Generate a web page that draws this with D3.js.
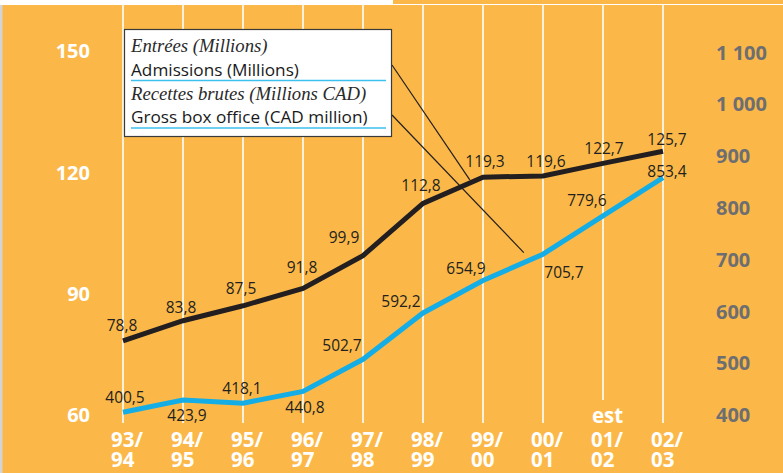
<!DOCTYPE html>
<html><head><meta charset="utf-8">
<script src="https://cdn.jsdelivr.net/npm/d3@7/dist/d3.min.js"></script>
<style>
html,body{margin:0;padding:0;background:#fff;}
svg{display:block;}
</style></head>
<body>
<svg id="chart" width="783" height="473"></svg>
<script>
// ---- data ----
const seasonsTop = ["93/", "94/", "95/", "96/", "97/", "98/", "99/", "00/", "01/", "02/"];
const seasonsBottom = ["94", "95", "96", "97", "98", "99", "00", "01", "02", "03"];
const estimateFlags = [false, false, false, false, false, false, false, false, true, false];
const admissions = [78.8, 83.8, 87.5, 91.8, 99.9, 112.8, 119.3, 119.6, 122.7, 125.7];
const boxOffice = [400.5, 423.9, 418.1, 440.8, 502.7, 592.2, 654.9, 705.7, 779.6, 853.4];
const leftTicks = [60, 90, 120, 150];
const rightTicks = [400, 500, 600, 700, 800, 900, 1000, 1100];
const legendLines = [
  {fr: "Entrées (Millions)", en: "Admissions (Millions)"},
  {fr: "Recettes brutes (Millions CAD)", en: "Gross box office (CAD million)"}
];

// ---- layout (label placement offsets, not data) ----
const admOff = [[-1,-16],[-2,-13],[-2,-17],[-1,-21],[-19,-18],[-2,-18],[2,-16],[3,-15],[1,-15],[4,-12]];
const boxOff = [[2,-15],[4,15],[-1,-15],[2,16],[-21,-14],[-22,-12],[-17,-12],[21,18],[-16,-16],[4,-6]];

const W = 783, H = 473;
const ORANGE = "#fbb848", BLUE = "#15ade6", DARK = "#231f20", GREY = "#6d6e71";
const svg = d3.select("#chart");

const idx = d3.range(seasonsTop.length);
const x = d3.scalePoint().domain(idx).range([123, 663]);
const yL = d3.scaleLinear().domain([60, 150]).range([417, 53]);
const yR = d3.scaleLinear().domain([400, 1100]).range([412.5, 50]);

// background
svg.append("rect").attr("x",0).attr("y",0).attr("width",W).attr("height",H).attr("fill","#fff");
svg.append("rect").attr("x",0).attr("y",5).attr("width",W).attr("height",H-5).attr("fill",ORANGE);
svg.append("rect").attr("x",393).attr("y",0).attr("width",W-393).attr("height",4).attr("fill",ORANGE);
svg.append("rect").attr("x",0).attr("y",5).attr("width",2.5).attr("height",H-5).attr("fill","#d4d4d4");

// vertical gridlines
svg.append("g").selectAll("line").data(idx).join("line")
  .attr("x1", d => x(d)).attr("x2", d => x(d))
  .attr("y1", 4).attr("y2", d => estimateFlags[d] ? 400 : 423)
  .attr("stroke", "#fff").attr("stroke-width", 1.6);

// left axis labels
const fontSans = "'Open Sans', 'Noto Sans', sans-serif";
svg.append("g").selectAll("text").data(leftTicks).join("text")
  .attr("x", 90).attr("y", d => yL(d) - 2).attr("dy", "0.36em")
  .attr("text-anchor", "end")
  .attr("font-family", fontSans).attr("font-weight", 700).attr("font-size", 20)
  .attr("fill", "#fff").text(d => d);

// right axis labels
const fmtR = v => d3.format(",")(v).replace(/,/g, " ");
svg.append("g").selectAll("text").data(rightTicks).join("text")
  .attr("x", 716).attr("y", d => yR(d) + 2.5).attr("dy", "0.36em")
  .attr("text-anchor", "start")
  .attr("font-family", fontSans).attr("font-weight", 700).attr("font-size", 20)
  .attr("fill", GREY).attr("xml:space", "preserve").text(d => fmtR(d));

// x labels (two-line season labels)
const xl = svg.append("g").attr("font-family", fontSans).attr("font-weight", 700)
  .attr("font-size", 20.5).attr("fill", "#fff");
xl.selectAll("text.s").data(idx).join("text").attr("class","s")
  .attr("x", d => x(d) - 12).attr("y", 447)
  .each(function(d) {
    const t = d3.select(this);
    t.append("tspan").attr("x", x(d) - 12).text(seasonsTop[d]);
    t.append("tspan").attr("x", x(d) - 12).attr("dy", 20).text(seasonsBottom[d]);
  });
xl.selectAll("text.e").data(idx.filter(d => estimateFlags[d])).join("text").attr("class","e")
  .attr("x", d => x(d) - 11).attr("y", 423).text("est");

// lines
const lineL = d3.line().x((d,i) => x(i)).y(d => yL(d));
const lineR = d3.line().x((d,i) => x(i)).y(d => yR(d));
svg.append("path").datum(admissions).attr("d", lineL)
  .attr("fill","none").attr("stroke",DARK).attr("stroke-width",5).attr("stroke-linejoin","miter");
svg.append("path").datum(boxOffice).attr("d", lineR)
  .attr("fill","none").attr("stroke",BLUE).attr("stroke-width",5).attr("stroke-linejoin","miter");

// value labels
const fmt = v => d3.format(".1f")(v).replace(".", ",");
const vl = svg.append("g").attr("font-family", fontSans).attr("font-size", 15.5)
  .attr("fill", DARK).attr("text-anchor","middle");
vl.selectAll("text.a").data(admissions).join("text").attr("class","a")
  .attr("x", (d,i) => x(i) + admOff[i][0]).attr("y", (d,i) => yL(d) + admOff[i][1])
  .attr("dy","0.36em").text(fmt);
vl.selectAll("text.r").data(boxOffice).join("text").attr("class","r")
  .attr("x", (d,i) => x(i) + boxOff[i][0]).attr("y", (d,i) => yR(d) + boxOff[i][1])
  .attr("dy","0.36em").text(fmt);

// leader lines from legend
const interp = (arr, sc, i, f) => sc(arr[i] + f*(arr[i+1]-arr[i]));
const lx1 = x(5) + 0.78*(x(6)-x(5));
const lx2 = x(6) + 0.68*(x(7)-x(6));
svg.append("line").attr("x1",392).attr("y1",65).attr("x2",lx1).attr("y2",interp(admissions,yL,5,0.78)-3)
  .attr("stroke",DARK).attr("stroke-width",1.2);
svg.append("line").attr("x1",392).attr("y1",115).attr("x2",lx2).attr("y2",interp(boxOffice,yR,6,0.68)-10)
  .attr("stroke",DARK).attr("stroke-width",1.2);

// legend
const lg = svg.append("g");
lg.append("rect").attr("x",124.5).attr("y",29.5).attr("width",267).attr("height",107)
  .attr("fill","#fff").attr("stroke","#3a3a3a").attr("stroke-width",1.2);
legendLines.forEach((l, k) => {
  const by = 52 + k*47.5;
  lg.append("text").attr("x",131).attr("y",by)
    .attr("font-family","'Liberation Serif', 'DejaVu Serif', serif").attr("font-style","italic")
    .attr("font-size",18.7).attr("fill","#2a2a2a").text(l.fr);
  lg.append("text").attr("x",131).attr("y",by+23.5)
    .attr("font-family",fontSans).attr("font-size",17.2).attr("fill","#1a1a1a").text(l.en);
  lg.append("line").attr("x1",131).attr("x2",386).attr("y1",by+28.5).attr("y2",by+28.5)
    .attr("stroke","#3cc0ee").attr("stroke-width",1.5);
});
</script>
</body></html>
